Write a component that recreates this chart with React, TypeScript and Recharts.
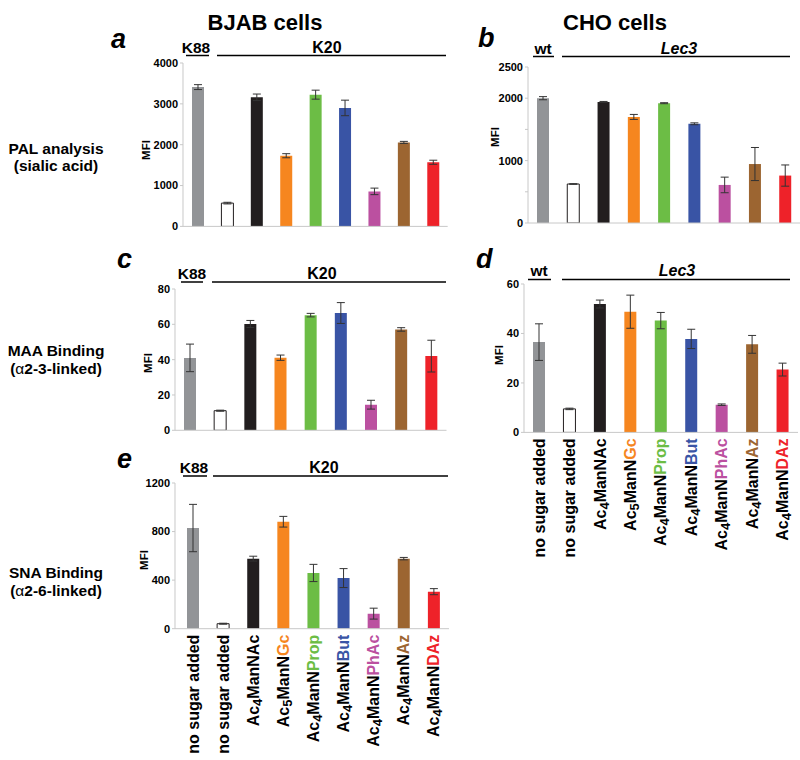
import React from 'react';
import { BarChart, Bar, XAxis, YAxis, ErrorBar, Cell } from 'recharts';

const FONT = 'Liberation Sans, Arial, Helvetica, sans-serif';

const categories = ['nsK88', 'ns', 'NAc', 'Gc', 'Prop', 'But', 'PhAc', 'Az', 'DAz'];
const tickLabels = ['no sugar added', 'no sugar added', 'Ac4ManNAc', 'Ac5ManNGc', 'Ac4ManNProp', 'Ac4ManNBut', 'Ac4ManNPhAc', 'Ac4ManNAz', 'Ac4ManNDAz'];
const suffixLen = [0, 0, 0, 2, 4, 3, 4, 2, 3];
const barColors = ['#929497', '#ffffff', '#221e1f', '#f6861f', '#6cbd45', '#3954a5', '#bb50a0', '#9c6531', '#ee2229'];
const labelColors = ['#000', '#000', '#000', '#f6861f', '#6cbd45', '#3954a5', '#bb50a0', '#9c6531', '#ee2229'];

// a: PAL, BJAB
const palBJAB = [3410, 570, 3160, 1730, 3225, 2900, 857, 2056, 1570];
const palBJABErr = [60, 20, 80, 50, 110, 190, 80, 25, 50];
// b: PAL, CHO
const palCHO = [2000, 625, 1940, 1700, 1920, 1590, 610, 945, 760];
const palCHOErr = [25, 5, 8, 40, 8, 15, 125, 265, 170];
// c: MAA, BJAB
const maaBJAB = [41, 11.1, 60.2, 41.1, 65.2, 66.4, 14.5, 57.1, 42];
const maaBJABErr = [7.8, 0.3, 2, 1.5, 1, 5.9, 2.5, 1, 9];
// d: MAA, CHO
const maaCHO = [36.5, 9.5, 51.9, 48.8, 45.2, 37.8, 11.2, 35.6, 25.4];
const maaCHOErr = [7.4, 0.3, 1.6, 6.7, 3.3, 3.9, 0.3, 3.6, 2.6];
// e: SNA, BJAB
const snaBJAB = [829, 41, 577, 881, 459, 417, 124, 577, 305];
const snaBJABErr = [195, 4, 20, 44, 71, 78, 45, 10, 25];

const ticksA = [0, 1000, 2000, 3000, 4000];
const ticksB = [0, 500, 1000, 1500, 2000, 2500];
const hiddenB = [500, 1500];
const ticksC = [0, 20, 40, 60, 80];
const ticksD = [0, 20, 40, 60];
const ticksE = [0, 400, 800, 1200];

const makeData = (values: number[], errs: number[]) =>
  categories.map((c, i) => ({ name: c, value: values[i], err: errs[i] }));

const SugarTick = (props: any) => {
  const { x, y, payload } = props;
  const i = categories.indexOf(payload.value);
  const label = tickLabels[i];
  const sl = suffixLen[i];
  const color = labelColors[i];
  let content: React.ReactNode;
  if (label.startsWith('Ac')) {
    const digit = label.charAt(2);
    const rest = label.slice(3);
    const main = sl > 0 ? rest.slice(0, rest.length - sl) : rest;
    const suf = sl > 0 ? rest.slice(rest.length - sl) : '';
    content = (
      <>
        <tspan>Ac</tspan>
        <tspan dy={3} fontSize={13}>{digit}</tspan>
        <tspan dy={-3}>{main}</tspan>
        {suf ? <tspan fill={color}>{suf}</tspan> : null}
      </>
    );
  } else {
    content = label;
  }
  return (
    <text
      x={x}
      y={y}
      dy={5.5}
      transform={`rotate(-90, ${x}, ${y})`}
      textAnchor="end"
      fontFamily={FONT}
      fontWeight="bold"
      fontSize={16}
      fill="#000"
    >
      {content}
    </text>
  );
};

type PanelProps = {
  values: number[];
  errs: number[];
  plotLeft: number;
  plotTop: number;
  plotW: number;
  plotH: number;
  yMax: number;
  ticks: number[];
  hidden?: number[];
  showLabels: boolean;
  padLeft?: number;
  mr?: number;
};

const Panel = ({ values, errs, plotLeft, plotTop, plotW, plotH, yMax, ticks, hidden = [], showLabels, padLeft = 0, mr = 2 }: PanelProps) => {
  const yw = 50;
  const mt = 8;
  const xh = showLabels ? 135 : 14;
  const width = yw + plotW + mr;
  const height = mt + plotH + xh;
  const data = makeData(values, errs);
  return (
    <div style={{ position: 'absolute', left: plotLeft - yw, top: plotTop - mt }}>
      <BarChart width={width} height={height} data={data} margin={{ top: mt, right: mr, left: 0, bottom: 0 }}>
        <XAxis
          dataKey="name"
          axisLine={{ stroke: '#c8c8c8' }}
          tickLine={false}
          tickSize={6}
          tickMargin={0}
          tick={showLabels ? <SugarTick /> : false}
          height={xh}
          interval={0}
          padding={{ left: padLeft, right: 0 }}
        />
        <YAxis
          width={yw}
          domain={[0, yMax]}
          ticks={ticks}
          interval={0}
          allowDataOverflow
          axisLine={{ stroke: '#c8c8c8' }}
          tickLine={{ stroke: '#c8c8c8' }}
          tickSize={3}
          tickMargin={2}
          tickFormatter={(v: number) => (hidden.includes(v) ? '' : String(v))}
          tick={{ fill: '#000', fontSize: 11, fontWeight: 'bold', fontFamily: FONT }}
        />
        <Bar dataKey="value" barSize={12} isAnimationActive={false}>
          {data.map((d, i) => (
            <Cell key={d.name} fill={barColors[i]} stroke={i === 1 ? '#221e1f' : 'none'} strokeWidth={i === 1 ? 1 : 0} />
          ))}
          <ErrorBar dataKey="err" width={4} stroke="#333" strokeWidth={1} isAnimationActive={false} />
        </Bar>
      </BarChart>
    </div>
  );
};

const T = (p: any) => <text fontFamily={FONT} fontWeight="bold" fill="#000" {...p} />;

const MFI = ({ cx, cy }: { cx: number; cy: number }) => (
  <T x={cx} y={cy} dy={4} fontSize={11.5} textAnchor="middle" transform={`rotate(-90, ${cx}, ${cy})`}>MFI</T>
);

const Group = ({ l1, l1x, l1a, l1b, l2, l2x, l2a, l2b, base, lineY, italic2 }: any) => (
  <g>
    <T x={l1x} y={base} fontSize={15.5} textAnchor="middle">{l1}</T>
    <line x1={l1a} x2={l1b} y1={lineY} y2={lineY} stroke="#000" strokeWidth={1.5} />
    <T x={l2x} y={base} fontSize={16} textAnchor="middle" fontStyle={italic2 ? 'italic' : 'normal'}>{l2}</T>
    <line x1={l2a} x2={l2b} y1={lineY} y2={lineY} stroke="#000" strokeWidth={1.5} />
  </g>
);

export default function App() {
  return (
    <div style={{ position: 'absolute', left: 0, top: 0, width: 800, height: 760, overflow: 'hidden', background: '#fff' }}>
      <Panel values={palBJAB} errs={palBJABErr} plotLeft={183.3} plotTop={63.3} plotW={264.7} plotH={163.4} yMax={4000} ticks={ticksA} showLabels={false} />
      <Panel values={palCHO} errs={palCHOErr} plotLeft={527.5} plotTop={67.3} plotW={272.5} plotH={156} yMax={2500} ticks={ticksB} hidden={hiddenB} showLabels={false} mr={0} />
      <Panel values={maaBJAB} errs={maaBJABErr} plotLeft={174.5} plotTop={289} plotW={271.5} plotH={141.3} yMax={80} ticks={ticksC} showLabels={false} />
      <Panel values={maaCHO} errs={maaCHOErr} plotLeft={524} plotTop={284.3} plotW={274} plotH={148.4} yMax={60} ticks={ticksD} showLabels={true} mr={0} />
      <Panel values={snaBJAB} errs={snaBJABErr} plotLeft={175} plotTop={483.3} plotW={274} plotH={145.7} yMax={1200} ticks={ticksE} showLabels={true} padLeft={3} />
      <svg width={800} height={760} style={{ position: 'absolute', left: 0, top: 0, pointerEvents: 'none' }}>
        <T x={265} y={30} fontSize={22} textAnchor="middle">BJAB cells</T>
        <T x={615} y={30} fontSize={22} textAnchor="middle">CHO cells</T>

        <T x={111} y={48} fontSize={27} fontStyle="italic">a</T>
        <T x={478} y={47} fontSize={27} fontStyle="italic">b</T>
        <T x={117} y={268} fontSize={27} fontStyle="italic">c</T>
        <T x={476} y={268} fontSize={27} fontStyle="italic">d</T>
        <T x={117} y={468} fontSize={27} fontStyle="italic">e</T>

        <T x={56} y={154} fontSize={15.5} textAnchor="middle">PAL analysis</T>
        <T x={56} y={171} fontSize={15.5} textAnchor="middle">(sialic acid)</T>
        <T x={56} y={356} fontSize={15.5} textAnchor="middle">MAA Binding</T>
        <T x={56} y={374} fontSize={15.5} textAnchor="middle">(<tspan fontWeight="normal">α</tspan>2-3-linked)</T>
        <T x={56} y={578} fontSize={15.5} textAnchor="middle">SNA Binding</T>
        <T x={56} y={596} fontSize={15.5} textAnchor="middle">(<tspan fontWeight="normal">α</tspan>2-6-linked)</T>

        <MFI cx={146} cy={150} />
        <MFI cx={495} cy={137} />
        <MFI cx={147.5} cy={363} />
        <MFI cx={499} cy={355} />
        <MFI cx={144} cy={560} />

        <Group l1="K88" l1x={196} l1a={186} l1b={209} l2="K20" l2x={327} l2a={217} l2b={446} base={52.5} lineY={55.5} />
        <Group l1="wt" l1x={543} l1a={533} l1b={554} l2="Lec3" l2x={679} l2a={562} l2b={790} base={54} lineY={56.5} italic2 />
        <Group l1="K88" l1x={192} l1a={181} l1b={203} l2="K20" l2x={322} l2a={212} l2b={446} base={279} lineY={282} />
        <Group l1="wt" l1x={539} l1a={528} l1b={551} l2="Lec3" l2x={677} l2a={562} l2b={790} base={276} lineY={279.5} italic2 />
        <Group l1="K88" l1x={194} l1a={183} l1b={207} l2="K20" l2x={324} l2a={213} l2b={448} base={473} lineY={476} />
      </svg>
    </div>
  );
}
